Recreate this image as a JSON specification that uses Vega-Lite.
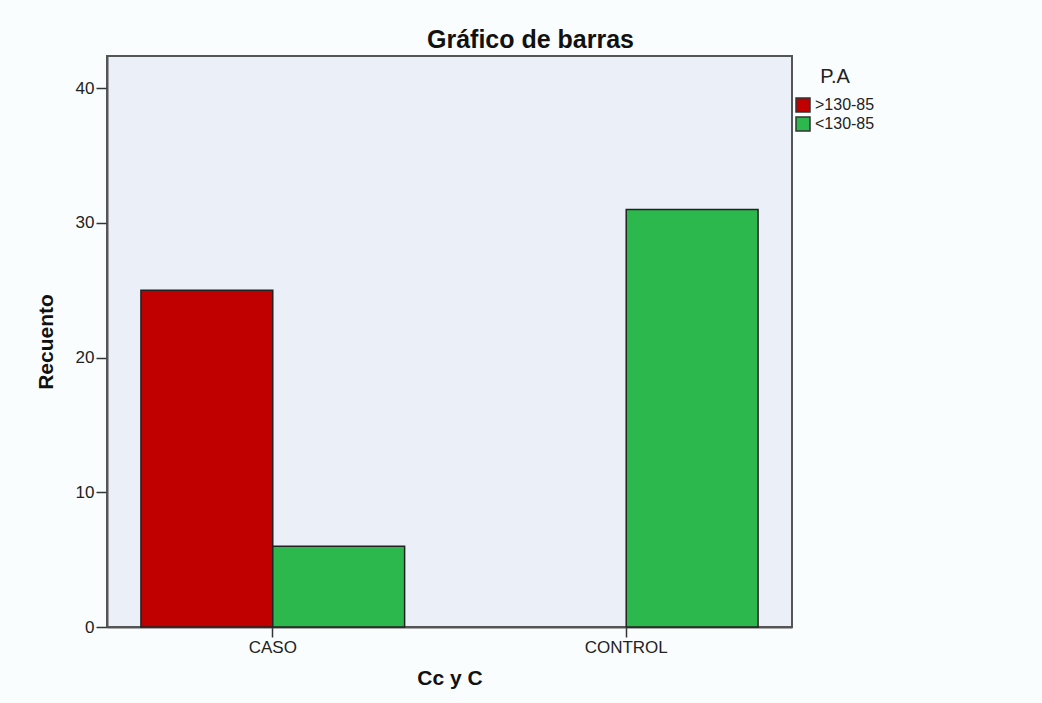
{
  "$schema": "https://vega.github.io/schema/vega-lite/v6.json",
  "width": 685,
  "height": 571,
  "autosize": {"type": "none"},
  "padding": {"left": 107, "top": 56, "right": 250, "bottom": 76},
  "background": "#FAFDFE",
  "title": {"text": "Gráfico de barras", "font": "Liberation Sans", "fontSize": 25, "fontWeight": "bold", "color": "#111", "offset": 3, "dx": 81},
  "data": {
    "values": [
      {"grupo": "CASO", "pa": ">130-85", "recuento": 25},
      {"grupo": "CASO", "pa": "<130-85", "recuento": 6},
      {"grupo": "CONTROL", "pa": "<130-85", "recuento": 31}
    ]
  },
  "mark": {"type": "bar", "stroke": "#222", "strokeWidth": 1.5},
  "encoding": {
    "x": {
      "field": "grupo", "type": "nominal", "title": "Cc y C",
      "scale": {"paddingInner": 0.254, "paddingOuter": 0.096},
      "axis": {"labelAngle": 0, "labelFont": "Liberation Sans", "labelFontSize": 17, "labelColor": "#222", "labelPadding": 2,
               "titleFont": "Liberation Sans", "titleFontSize": 21, "titleFontWeight": "bold", "titleColor": "#111", "titlePadding": 12,
               "tickSize": 10, "tickColor": "#333", "tickWidth": 1.5, "domainColor": "#555", "domainWidth": 2}
    },
    "xOffset": {"field": "pa", "type": "nominal", "sort": [">130-85", "<130-85"], "scale": {"paddingInner": 0, "paddingOuter": 0}},
    "y": {
      "field": "recuento", "type": "quantitative", "title": "Recuento",
      "scale": {"domain": [0, 42.4], "nice": false},
      "axis": {"values": [0, 10, 20, 30, 40], "grid": false, "labelFont": "Liberation Sans", "labelFontSize": 17, "labelColor": "#222", "labelPadding": 2,
               "titleFont": "Liberation Sans", "titleFontSize": 21, "titleFontWeight": "bold", "titleColor": "#111", "titlePadding": 19,
               "tickSize": 11, "tickColor": "#333", "tickWidth": 1.5, "domainColor": "#555", "domainWidth": 2}
    },
    "color": {
      "field": "pa", "type": "nominal", "sort": [">130-85", "<130-85"], "title": "P.A",
      "scale": {"domain": [">130-85", "<130-85"], "range": ["#C00000", "#2DB84D"]},
      "legend": {"orient": "none", "legendX": 688, "legendY": 11, "symbolType": "square", "symbolSize": 196,
                 "symbolStrokeColor": "#333", "symbolStrokeWidth": 1.5, "symbolOpacity": 1,
                 "labelFont": "Liberation Sans", "labelFontSize": 16, "labelColor": "#222", "labelOffset": 4,
                 "titleFont": "Liberation Sans", "titleFontSize": 20, "titleFontWeight": "normal", "titleColor": "#222",
                 "titleAnchor": "middle", "titlePadding": 10, "rowPadding": -1}
    }
  },
  "config": {"view": {"fill": "#EBEFF8", "stroke": "#555", "strokeWidth": 2}}
}
